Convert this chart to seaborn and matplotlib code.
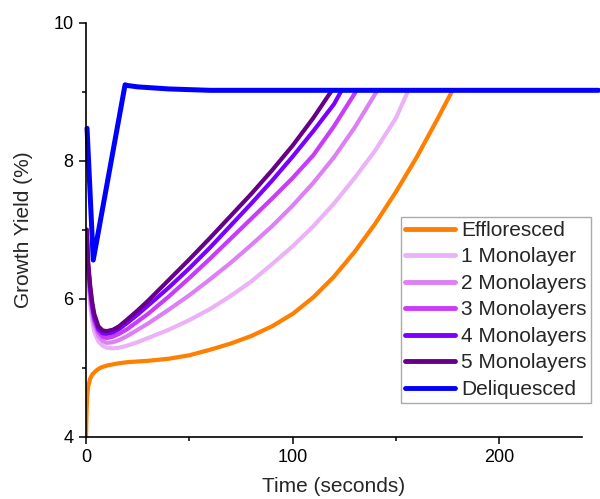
import numpy as np
import pandas as pd
import matplotlib
matplotlib.use("Agg")
import matplotlib.pyplot as plt
import seaborn as sns
from matplotlib.ticker import MultipleLocator

sns.set_theme(style="ticks")
plt.rcParams['font.family'] = ['Liberation Sans', 'DejaVu Sans']

# ---- data ----
eff_t = [0, 0.3, 0.7, 1, 2, 3, 5, 7, 10, 15, 20, 30, 40, 50, 60, 70, 80, 90, 100, 110, 120, 130, 140, 150, 160, 170, 177]
eff_y = [4.0, 4.4, 4.62, 4.72, 4.84, 4.9, 4.96, 5.0, 5.03, 5.06, 5.08, 5.1, 5.13, 5.18, 5.26, 5.35, 5.46, 5.6, 5.78, 6.02, 6.32, 6.68, 7.09, 7.55, 8.05, 8.6, 9.0]

ml_t = [0.3, 1, 2, 3, 4, 6, 8, 10, 13, 16, 20, 25, 30, 40, 50, 60, 70, 80, 90, 100, 110, 120, 130, 140, 150]
ml1_y = [7.0, 6.3, 5.92, 5.68, 5.52, 5.38, 5.32, 5.29, 5.28, 5.29, 5.32, 5.37, 5.43, 5.55, 5.69, 5.85, 6.04, 6.25, 6.5, 6.76, 7.05, 7.38, 7.75, 8.15, 8.62]
ml1_end = (156, 9.02)
ml2_y = [7.0, 6.4, 6.02, 5.78, 5.62, 5.46, 5.39, 5.36, 5.37, 5.4, 5.46, 5.55, 5.64, 5.84, 6.05, 6.28, 6.52, 6.78, 7.05, 7.35, 7.68, 8.05, 8.48]
ml2_end = (141, 9.02)
ml3_y = [7.0, 6.45, 6.1, 5.85, 5.68, 5.52, 5.45, 5.43, 5.45, 5.49, 5.56, 5.67, 5.78, 6.03, 6.3, 6.58, 6.87, 7.16, 7.45, 7.75, 8.08, 8.5]
ml3_end = (131, 9.02)
ml4_y = [7.0, 6.5, 6.15, 5.9, 5.73, 5.56, 5.5, 5.49, 5.51, 5.56, 5.65, 5.77, 5.9, 6.16, 6.44, 6.74, 7.06, 7.38, 7.71, 8.06, 8.43, 8.82]
ml4_end = (123.7, 9.02)
ml5_y = [7.0, 6.55, 6.2, 5.95, 5.78, 5.6, 5.54, 5.53, 5.55, 5.6, 5.7, 5.83, 5.97, 6.27, 6.57, 6.88, 7.2, 7.52, 7.86, 8.22, 8.62]
ml5_end = (119, 9.02)

deli_t = [0.5, 3.5, 18.9, 20, 25, 30, 40, 50, 60, 80, 120, 180, 248]
deli_y = [8.47, 6.56, 9.10, 9.09, 9.07, 9.06, 9.04, 9.03, 9.02, 9.02, 9.02, 9.02, 9.02]

labels = ["Effloresced", "1 Monolayer", "2 Monolayers", "3 Monolayers",
          "4 Monolayers", "5 Monolayers", "Deliquesced"]
colors = ["#FF7F00", "#EBB2F7", "#DD80F5", "#C83CFA", "#7A00FF", "#660088", "#0000FF"]

def ml_series(ys, end):
    t = ml_t[:len(ys)] + [end[0]]
    y = ys + [end[1]]
    return t, y

series = [
    (eff_t, eff_y),
    ml_series(ml1_y, ml1_end),
    ml_series(ml2_y, ml2_end),
    ml_series(ml3_y, ml3_end),
    ml_series(ml4_y, ml4_end),
    ml_series(ml5_y, ml5_end),
    (deli_t, deli_y),
]

fig = plt.figure(figsize=(6.0, 4.99), dpi=100)
ax = fig.add_axes([86/600, 1-436.7/499, 496/600, (436.7-22.7)/499])

for (t, y), lab, c in zip(series, labels, colors):
    lw = 3.6 if lab == "Deliquesced" else 3.0
    sns.lineplot(x=t, y=y, ax=ax, color=c, lw=lw, label=lab, sort=False,
                 estimator=None, clip_on=(lab != "Deliquesced"))

ax.set_xlim(0, 240)
ax.set_ylim(4, 10)
ax.xaxis.set_major_locator(MultipleLocator(100))
ax.xaxis.set_minor_locator(MultipleLocator(50))
ax.yaxis.set_major_locator(MultipleLocator(2))
ax.yaxis.set_minor_locator(MultipleLocator(1))
ax.tick_params(which='major', direction='out', length=5, width=1.1, labelsize=13, colors='black', pad=4)
ax.tick_params(which='minor', direction='out', length=3, width=1.1, colors='black')
for s in ['top', 'right']:
    ax.spines[s].set_visible(False)
for s in ['left', 'bottom']:
    ax.spines[s].set_linewidth(1.2)
    ax.spines[s].set_color('black')

ax.set_xlabel("Time (seconds)", fontsize=15, labelpad=8)
ax.set_ylabel("Growth Yield (%)", fontsize=15, labelpad=15)

leg = ax.legend(loc='upper left', bbox_to_anchor=((400.5-86)/496, 1-(216.7-22.7)/414),
                fontsize=15, frameon=True, fancybox=False, edgecolor='#AAAAAA',
                handlelength=2.4, handletextpad=0.3, labelspacing=0.36,
                borderpad=0.2, borderaxespad=0, framealpha=1)
leg.get_frame().set_linewidth(1.0)
for h in leg.get_lines():
    h.set_linewidth(3.5)

fig.savefig("out.png", dpi=100)
